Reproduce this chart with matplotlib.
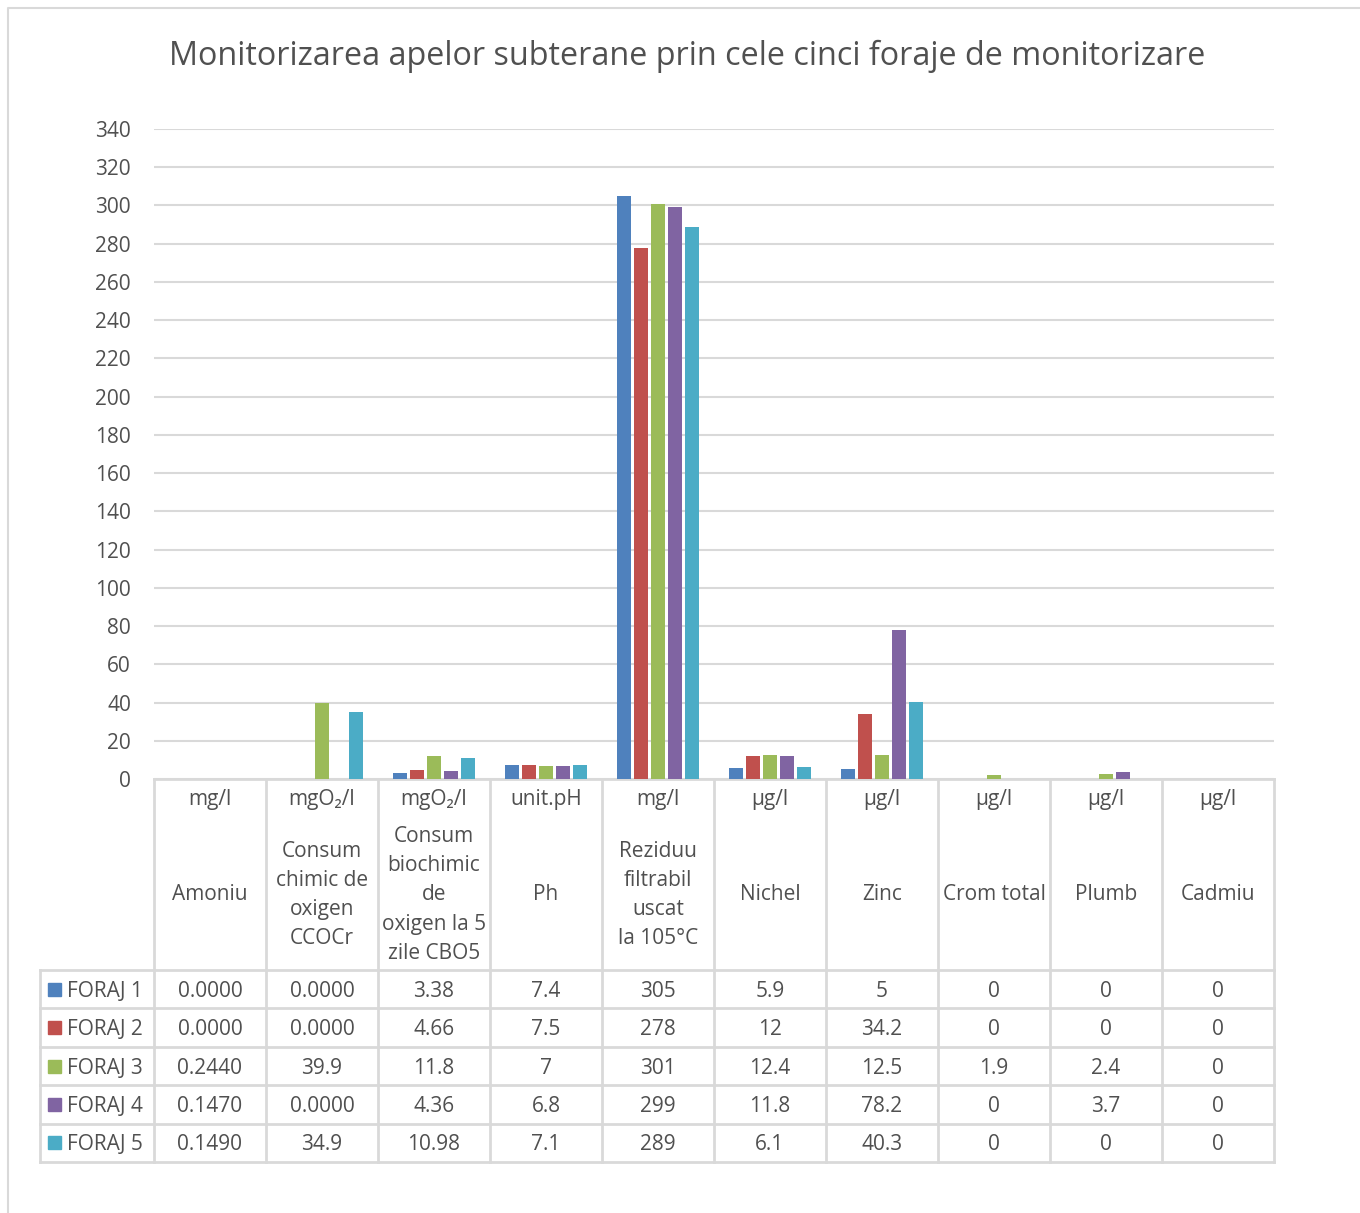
import matplotlib
matplotlib.use("Agg")
import matplotlib.pyplot as plt
import numpy as np

plt.rcParams['font.family'] = ['Open Sans', 'DejaVu Sans']

# ---------------- data ----------------
title = "Monitorizarea apelor subterane prin cele cinci foraje de monitorizare"
units = ["mg/l", "mgO\u2082/l", "mgO\u2082/l", "unit.pH", "mg/l",
         "\u00b5g/l", "\u00b5g/l", "\u00b5g/l", "\u00b5g/l", "\u00b5g/l"]
categories = ["Amoniu", "Consum\nchimic de\noxigen\nCCOCr",
              "Consum\nbiochimic\nde\noxigen la 5\nzile CBO5", "Ph",
              "Reziduu\nfiltrabil\nuscat\nla 105\u00b0C", "Nichel", "Zinc",
              "Crom total", "Plumb", "Cadmiu"]
series_names = ["FORAJ 1", "FORAJ 2", "FORAJ 3", "FORAJ 4", "FORAJ 5"]
foraj1 = [0.0, 0.0, 3.38, 7.4, 305, 5.9, 5, 0, 0, 0]
foraj2 = [0.0, 0.0, 4.66, 7.5, 278, 12, 34.2, 0, 0, 0]
foraj3 = [0.244, 39.9, 11.8, 7, 301, 12.4, 12.5, 1.9, 2.4, 0]
foraj4 = [0.147, 0.0, 4.36, 6.8, 299, 11.8, 78.2, 0, 3.7, 0]
foraj5 = [0.149, 34.9, 10.98, 7.1, 289, 6.1, 40.3, 0, 0, 0]
series = [foraj1, foraj2, foraj3, foraj4, foraj5]
colors = ["#4F81BD", "#C0504D", "#9BBB59", "#8064A2", "#4BACC6"]
yticks = list(range(0, 341, 20))

# ---------------- layout ----------------
W, H = 1360, 1213
fig = plt.figure(figsize=(W / 100, H / 100), dpi=100)
txt = "#505050"
grid = "#d9d9d9"
fs = 15

# overlay axes in pixel coordinates
ov = fig.add_axes([0, 0, 1, 1])
ov.set_xlim(0, W)
ov.set_ylim(H, 0)
ov.axis("off")

# chart border
ov.plot([8, 8, W + 5], [H + 5, 8, 8], color=grid, lw=1.5)

fig.text(687 / W, 1 - 56 / H, title, ha="center", va="center",
         fontsize=23.3, color=txt)

x0, x1, ytop, ybot = 154, 1274, 129, 779
ax = fig.add_axes([x0 / W, 1 - ybot / H, (x1 - x0) / W, (ybot - ytop) / H])
n = len(categories)
ax.set_xlim(0, n)
ax.set_ylim(0, 340)
ax.set_yticks(yticks)
ax.set_yticklabels([str(t) for t in yticks], fontsize=fs, color=txt)
ax.tick_params(axis="y", length=0, pad=16.5)
ax.set_xticks([])
for s in ax.spines.values():
    s.set_visible(False)
ax.grid(axis="y", color=grid, lw=1.5)
ax.set_axisbelow(True)

step = 0.152
bw = 0.118
xc = np.arange(n) + 0.5
for k, (vals, c) in enumerate(zip(series, colors)):
    ax.bar(xc + (k - 2) * step, vals, width=bw, color=c, zorder=3)

# ---------------- data table ----------------
cw = (x1 - x0) / n
row_top = 970
rh = (1162 - 970) / 5
lw = 2
# header verticals
for i in range(n + 1):
    xx = x0 + i * cw
    ov.plot([xx, xx], [ybot, 1162], color=grid, lw=lw)
ov.plot([x0, x1], [ybot, ybot], color=grid, lw=lw)
# row lines
for r in range(6):
    yy = row_top + r * rh
    ov.plot([40, x1], [yy, yy], color=grid, lw=lw)
ov.plot([40, 40], [row_top, 1162], color=grid, lw=lw)

for i in range(n):
    cx = x0 + (i + 0.5) * cw
    ov.text(cx, 800, units[i], ha="center", va="center", fontsize=fs, color=txt)
    ov.text(cx, 895, categories[i], ha="center", va="center", fontsize=fs,
            color=txt, linespacing=1.52)


def fmt(col, v):
    if col == 0:
        return f"{v:.4f}"
    if col == 1 and v == 0:
        return "0.0000"
    return f"{v:g}"


for r, (name, vals, c) in enumerate(zip(series_names, series, colors)):
    cy = row_top + (r + 0.5) * rh
    ov.add_patch(plt.Rectangle((48, cy - 6.5), 13, 13, color=c))
    ov.text(67, cy + 2, name, ha="left", va="center", fontsize=fs, color=txt)
    for i, v in enumerate(vals):
        cx = x0 + (i + 0.5) * cw
        ov.text(cx, cy + 2, fmt(i, v), ha="center", va="center", fontsize=fs, color=txt)

fig.savefig("out.png", dpi=100, facecolor="white")
